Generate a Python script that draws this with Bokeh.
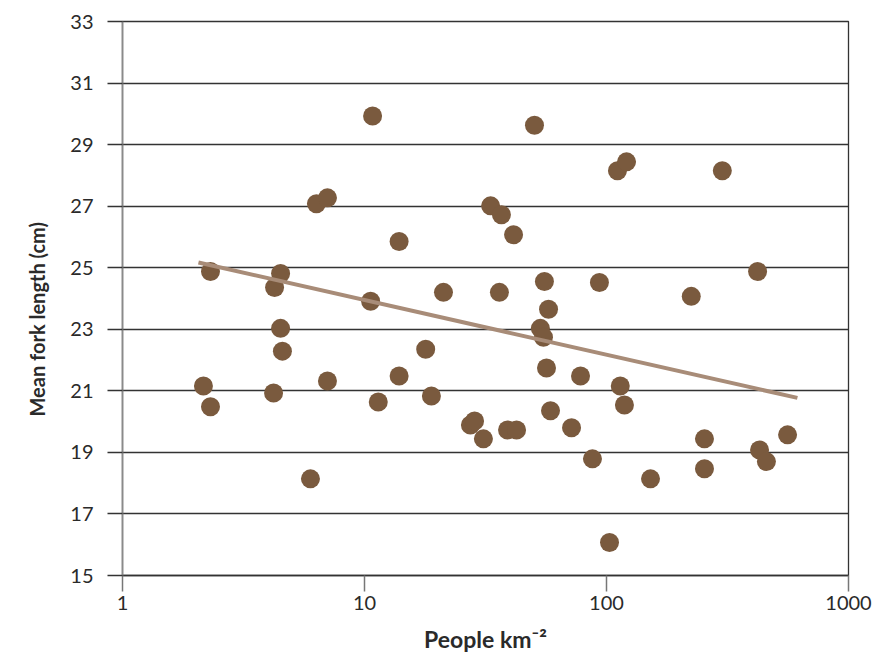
import math

from bokeh.plotting import figure
from bokeh.models import FixedTicker, PrintfTickFormatter, ColumnDataSource, Title
from bokeh.embed import file_html
from bokeh.resources import INLINE

# Population density (people per km²) and mean fork length (cm) per site
density = [2.16, 2.31, 2.31, 4.25, 4.5, 4.5, 4.58, 4.21, 5.98, 6.33,
           7.03, 7.03, 10.8, 10.6, 11.4, 13.9, 13.9, 17.9, 18.9, 21.2,
           27.4, 28.5, 31.0, 33.2, 36.8, 36.1, 39.0, 41.3, 42.5, 50.4,
           53.3, 54.9, 55.4, 56.5, 57.6, 58.7, 71.7, 78.1, 87.5, 93.5,
           102.9, 111.0, 114.0, 118.6, 121.0, 152.0, 224.0, 254.0, 254.0, 301.0,
           421.0, 429.0, 458.0, 560.0]
fork_length = [21.16, 24.88, 20.48, 24.36, 24.81, 23.03, 22.29, 20.93, 18.14, 27.08,
               27.27, 21.32, 29.93, 23.91, 20.64, 25.85, 21.48, 22.35, 20.83, 24.20,
               19.89, 20.02, 19.44, 27.01, 26.72, 24.20, 19.73, 26.07, 19.73, 29.63,
               23.03, 22.74, 24.55, 21.74, 23.65, 20.35, 19.80, 21.48, 18.79, 24.52,
               16.07, 28.15, 21.16, 20.54, 28.44, 18.14, 24.07, 19.44, 18.47, 28.15,
               24.88, 19.08, 18.70, 19.57]

# Fitted trend: length = intercept + slope * log10(density)
trend_intercept = 25.73
trend_slope = -1.778
trend_x = [2.06, 615.0]

x_ticks = [1, 10, 100, 1000]
y_ticks = [15, 17, 19, 21, 23, 25, 27, 29, 31, 33]

trend_y = [trend_intercept + trend_slope * math.log10(v) for v in trend_x]

FONT = "Lato"
DOT = "#7a5a3e"
TREND = "#a88c78"
INK = "#2a2a2a"

p = figure(width=872, height=655, x_axis_type="log",
           x_range=(1, 1000), y_range=(15, 33),
           output_backend="svg", toolbar_location=None,
           min_border_left=122, min_border_right=24,
           min_border_top=21, min_border_bottom=78,
           background_fill_color="white", border_fill_color="white")

# frame border supplies the top rule at 33 and the right rule at 1000
p.outline_line_color = "#333333"
p.outline_line_width = 1.3

# horizontal grid at each y tick, extended left of the axis by the major ticks
p.ygrid.ticker = FixedTicker(ticks=y_ticks)
p.ygrid.grid_line_color = "#333333"
p.ygrid.grid_line_width = 1.3
p.xgrid.grid_line_color = None

p.yaxis.ticker = FixedTicker(ticks=y_ticks)
p.yaxis.axis_line_color = "#8a8a8a"
p.yaxis.axis_line_width = 1.6
p.yaxis.major_tick_line_color = "#333333"
p.yaxis.major_tick_line_width = 1.3
p.yaxis.major_tick_in = 0
p.yaxis.major_tick_out = 15
p.yaxis.minor_tick_line_color = None
p.yaxis.major_label_standoff = 14

p.xaxis.ticker = FixedTicker(ticks=x_ticks)
p.xaxis.formatter = PrintfTickFormatter(format="%d")
p.xaxis.axis_line_color = "#333333"
p.xaxis.axis_line_width = 1.3
p.xaxis.major_tick_line_color = "#777777"
p.xaxis.major_tick_line_width = 1.5
p.xaxis.major_tick_in = 0
p.xaxis.major_tick_out = 16
p.xaxis.minor_tick_line_color = None
p.xaxis.major_label_standoff = 4
p.xaxis.axis_label = "People km\u207b\u00b2"
p.xaxis.axis_label_standoff = 12
p.xaxis.axis_label_text_font_size = "23px"

for ax in (p.xaxis, p.yaxis):
    ax.major_label_text_font = FONT
    ax.major_label_text_font_size = "20px"
    ax.major_label_text_color = INK
    ax.axis_label_text_font = FONT
    ax.axis_label_text_font_style = "bold"
    ax.axis_label_text_color = INK

# vertical y title in the left panel, starting part-way up the frame
p.add_layout(Title(text="Mean fork length (cm)", align="left", offset=159,
                   text_font=FONT, text_font_size="20px", text_font_style="bold",
                   text_color=INK, standoff=38), "left")

src = ColumnDataSource(data=dict(x=density, y=fork_length))
p.scatter("x", "y", source=src, size=19, fill_color=DOT, line_color=None)
p.line(trend_x, trend_y, line_color=TREND, line_width=4)

open("out.html", "w").write(file_html(p, INLINE))
